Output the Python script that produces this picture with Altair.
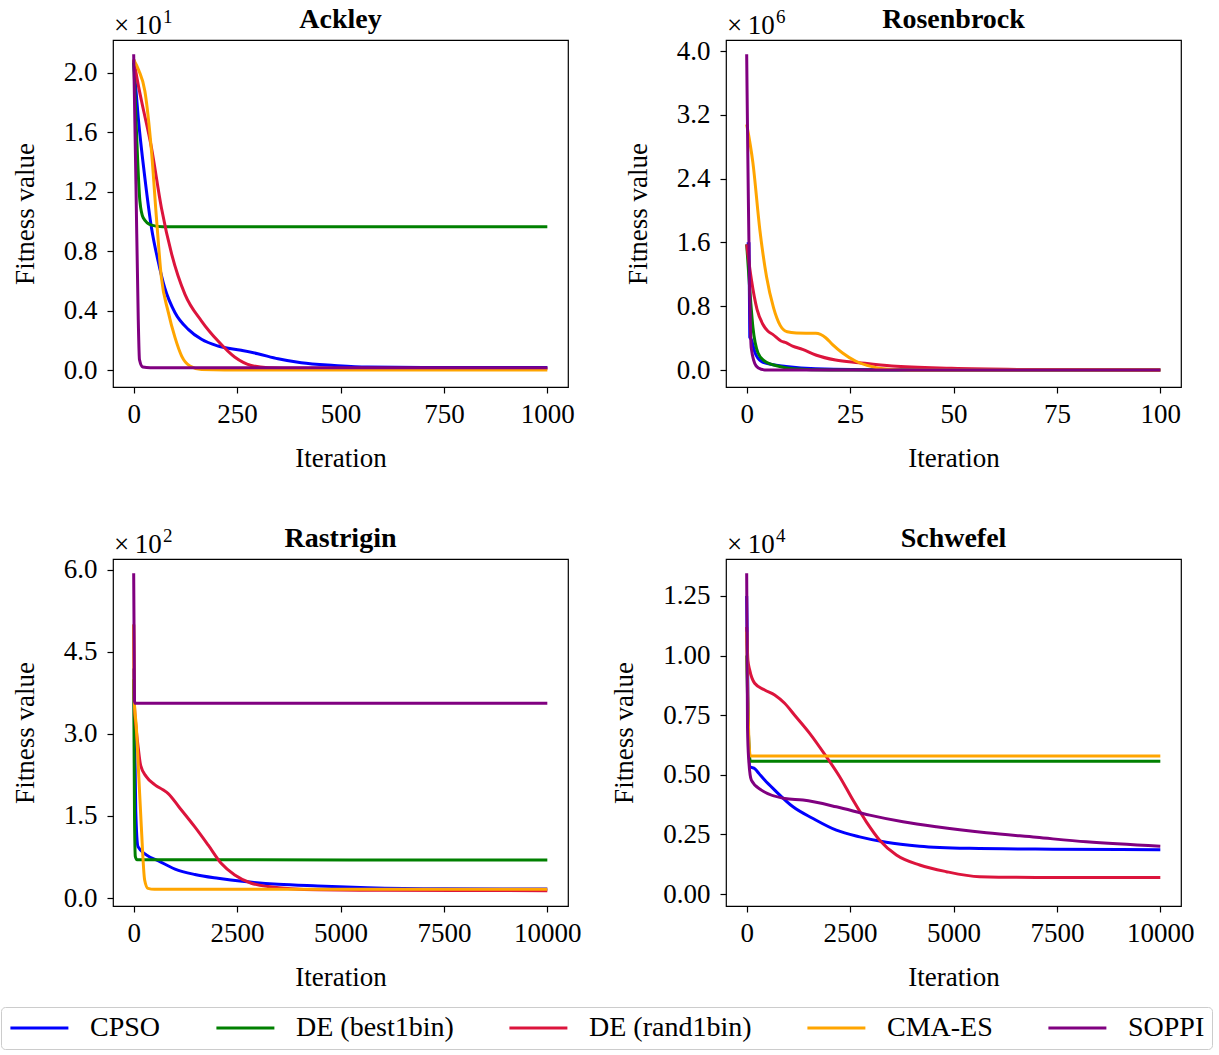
import altair as alt
import pandas as pd

FONT = "Liberation Serif"
ALGS = ["CPSO", "DE (best1bin)", "DE (rand1bin)", "CMA-ES", "SOPPI"]
COLORS = ["#0000ff", "#008000", "#dc143c", "#ffa500", "#800080"]

TITLES = ["Ackley", "Rosenbrock", "Rastrigin", "Schwefel"]
EXPONENTS = [1, 6, 2, 4]

# ---------------- Ackley (values in units of 10^1) ----------------
ACK_CPSO_X = [0, 11, 27, 43, 59, 75, 100, 132, 164, 204, 260, 300, 349, 405, 485, 565, 700, 1000]
ACK_CPSO_Y = [2.07, 1.70, 1.295, 0.958, 0.734, 0.554, 0.386, 0.274, 0.207, 0.162, 0.133, 0.110, 0.076, 0.049, 0.031, 0.020, 0.018, 0.018]
ACK_BEST_X = [0, 7, 15, 23, 43, 70, 1000]
ACK_BEST_Y = [2.09, 1.587, 1.138, 1.026, 0.976, 0.965, 0.965]
ACK_RAND_X = [0, 11, 19, 43, 67, 92, 124, 164, 204, 244, 284, 325, 400, 1000]
ACK_RAND_Y = [2.09, 1.92, 1.811, 1.497, 1.093, 0.779, 0.510, 0.330, 0.195, 0.0875, 0.031, 0.016, 0.012, 0.010]
ACK_CMA_X = [0, 12, 27, 43, 55, 67, 83, 100, 116, 136, 164, 220, 1000]
ACK_CMA_Y = [2.09, 2.02, 1.879, 1.475, 1.026, 0.622, 0.397, 0.218, 0.094, 0.027, 0.003, 0.0, 0.0]
ACK_SOPPI_X = [0, 5.5, 11, 14, 22, 40, 1000]
ACK_SOPPI_Y = [2.126, 1.25, 0.35, 0.07, 0.02, 0.015, 0.015]

# ---------------- Rosenbrock (values in units of 10^6) ----------------
ROS_CPSO_X = [0, 0.55, 0.75, 1.1, 2.0, 3.5, 5.5, 9.5, 16.7, 35, 100]
ROS_CPSO_Y = [1.584, 1.584, 0.41, 0.385, 0.22, 0.11, 0.075, 0.045, 0.017, 0.003, 0.0]
ROS_BEST_X = [0, 0.72, 1.52, 2.72, 4.3, 7.5, 11.1, 20, 100]
ROS_BEST_Y = [1.576, 1.03, 0.53, 0.217, 0.113, 0.05, 0.017, 0.0, 0.0]
ROS_RAND_X = [0, 1.12, 2.5, 3.9, 5.1, 6.3, 8.3, 9.5, 11.1, 13.5, 16.7, 21.5, 27.1, 35.1, 49.5, 65.5, 100]
ROS_RAND_Y = [1.576, 1.14, 0.76, 0.573, 0.489, 0.447, 0.364, 0.342, 0.30, 0.259, 0.188, 0.125, 0.092, 0.05, 0.021, 0.008, 0.0]
ROS_CMA_X = [0, 1.5, 3.2, 4.8, 6.5, 8.1, 9.8, 12, 16.7, 19.1, 20.7, 23.1, 26.3, 30.3, 35, 40, 100]
ROS_CMA_Y = [3.08, 2.6, 1.75, 1.17, 0.78, 0.56, 0.48, 0.465, 0.46, 0.405, 0.322, 0.217, 0.113, 0.042, 0.008, 0.0, 0.0]
ROS_SOPPI_X = [0, 1.1, 2.3, 3.5, 5, 100]
ROS_SOPPI_Y = [3.958, 0.28, 0.05, 0.01, 0.0, 0.0]

# ---------------- Rastrigin (values in units of 10^2) ----------------
RAS_CPSO_X = [0, 50, 104, 305, 600, 1000, 1480, 2040, 2680, 3490, 4450, 5650, 7500, 10000]
RAS_CPSO_Y = [4.2, 1.6, 0.94, 0.79, 0.68, 0.53, 0.43, 0.36, 0.30, 0.25, 0.22, 0.19, 0.17, 0.165]
RAS_BEST_X = [0, 20, 40, 80, 10000]
RAS_BEST_Y = [4.0, 1.5, 0.756, 0.70, 0.695]
RAS_RAND_X = [0, 15, 60, 110, 170, 305, 514, 707, 835, 1100, 1478, 1799, 2120, 2442, 2843, 3245, 4450, 6000, 10000]
RAS_RAND_Y = [5.0, 3.6, 3.1, 2.75, 2.42, 2.22, 2.07, 1.98, 1.91, 1.66, 1.30, 0.97, 0.63, 0.42, 0.27, 0.21, 0.15, 0.14, 0.135]
RAS_CMA_X = [0, 15, 64, 125, 185, 265, 345, 500, 10000]
RAS_CMA_Y = [5.0, 3.6, 3.13, 2.2, 1.30, 0.33, 0.177, 0.16, 0.16]
RAS_SOPPI_X = [0, 20, 40, 10000]
RAS_SOPPI_Y = [5.94, 3.6, 3.56, 3.56]

# ---------------- Schwefel (values in units of 10^4) ----------------
SCH_CPSO_X = [0, 40, 80, 200, 300, 435, 677, 1120, 1604, 2168, 2731, 3376, 4182, 5391, 7406, 10000]
SCH_CPSO_Y = [1.25, 0.7, 0.534, 0.525, 0.505, 0.478, 0.436, 0.366, 0.317, 0.268, 0.24, 0.217, 0.201, 0.192, 0.188, 0.186]
SCH_BEST_X = [0, 60, 90, 10000]
SCH_BEST_Y = [1.0, 0.6, 0.557, 0.557]
SCH_RAND_X = [0, 30, 72, 193, 435, 677, 918, 1160, 1523, 1926, 2248, 2570, 2893, 3215, 3619, 4182, 4827, 5632, 7000, 10000]
SCH_RAND_Y = [1.12, 0.98, 0.94, 0.884, 0.856, 0.835, 0.80, 0.75, 0.674, 0.576, 0.492, 0.394, 0.303, 0.226, 0.164, 0.122, 0.094, 0.073, 0.07, 0.07]
SCH_CMA_X = [0, 60, 90, 10000]
SCH_CMA_Y = [1.1, 0.62, 0.579, 0.579]
SCH_SOPPI_X = [0, 20, 50, 113, 355, 918, 1362, 2168, 2973, 3779, 4585, 5794, 7003, 8212, 10000]
SCH_SOPPI_Y = [1.345, 0.7, 0.562, 0.478, 0.436, 0.401, 0.394, 0.366, 0.331, 0.303, 0.282, 0.257, 0.238, 0.219, 0.201]

# axes: domains and ticks
ACK_XDOM, ACK_YDOM = [-50, 1050], [-0.114, 2.222]
ROS_XDOM, ROS_YDOM = [-5, 105], [-0.213, 4.138]
RAS_XDOM, RAS_YDOM = [-500, 10500], [-0.146, 6.2]
SCH_XDOM, SCH_YDOM = [-500, 10500], [-0.05, 1.405]
ACK_XTICKS, ACK_YTICKS = [0, 250, 500, 750, 1000], [0, 0.4, 0.8, 1.2, 1.6, 2.0]
ROS_XTICKS, ROS_YTICKS = [0, 25, 50, 75, 100], [0, 0.8, 1.6, 2.4, 3.2, 4.0]
RAS_XTICKS, RAS_YTICKS = [0, 2500, 5000, 7500, 10000], [0, 1.5, 3.0, 4.5, 6.0]
SCH_XTICKS, SCH_YTICKS = [0, 2500, 5000, 7500, 10000], [0, 0.25, 0.5, 0.75, 1.0, 1.25]

W, H = 455, 347

color_enc = alt.Color(
    "alg:N",
    scale=alt.Scale(domain=ALGS, range=COLORS),
    legend=alt.Legend(title=None),
)


def panel(title, exp, xs, ys, xdom, ydom, xticks, yticks, yfmt):
    rows = []
    for alg, xv, yv in zip(ALGS, xs, ys):
        for a, b in zip(xv, yv):
            rows.append({"alg": alg, "it": a, "val": b})
    df = pd.DataFrame(rows)
    xenc = alt.X(
        "it:Q",
        scale=alt.Scale(domain=xdom, nice=False, zero=False),
        axis=alt.Axis(values=xticks, format="d", title="Iteration"),
    )
    yenc = alt.Y(
        "val:Q",
        scale=alt.Scale(domain=ydom, nice=False, zero=False),
        axis=alt.Axis(values=yticks, format=yfmt, title="Fitness value"),
    )
    layers = []
    for alg in ALGS:
        layers.append(
            alt.Chart(df)
            .transform_filter(alt.datum.alg == alg)
            .mark_line(strokeWidth=3, clip=True, interpolate="monotone")
            .encode(x=xenc, y=yenc, color=color_enc)
        )
    ttl = alt.Chart(pd.DataFrame({"t": [title]})).mark_text(
        align="center", baseline="alphabetic", font=FONT, fontSize=28,
        fontWeight="bold", color="black",
    ).encode(text="t:N", x=alt.value(W / 2), y=alt.value(-12))
    off = alt.Chart(pd.DataFrame({"t": ["×\u200910"]})).mark_text(
        align="left", baseline="alphabetic", font=FONT, fontSize=27, color="black",
    ).encode(text="t:N", x=alt.value(1), y=alt.value(-6))
    sup = alt.Chart(pd.DataFrame({"t": [str(exp)]})).mark_text(
        align="left", baseline="alphabetic", font=FONT, fontSize=19, color="black",
    ).encode(text="t:N", x=alt.value(50), y=alt.value(-17))
    return alt.layer(*layers, ttl, off, sup).properties(width=W, height=H)


p1 = panel(TITLES[0], EXPONENTS[0],
           [ACK_CPSO_X, ACK_BEST_X, ACK_RAND_X, ACK_CMA_X, ACK_SOPPI_X],
           [ACK_CPSO_Y, ACK_BEST_Y, ACK_RAND_Y, ACK_CMA_Y, ACK_SOPPI_Y],
           ACK_XDOM, ACK_YDOM, ACK_XTICKS, ACK_YTICKS, ".1f")
p2 = panel(TITLES[1], EXPONENTS[1],
           [ROS_CPSO_X, ROS_BEST_X, ROS_RAND_X, ROS_CMA_X, ROS_SOPPI_X],
           [ROS_CPSO_Y, ROS_BEST_Y, ROS_RAND_Y, ROS_CMA_Y, ROS_SOPPI_Y],
           ROS_XDOM, ROS_YDOM, ROS_XTICKS, ROS_YTICKS, ".1f")
p3 = panel(TITLES[2], EXPONENTS[2],
           [RAS_CPSO_X, RAS_BEST_X, RAS_RAND_X, RAS_CMA_X, RAS_SOPPI_X],
           [RAS_CPSO_Y, RAS_BEST_Y, RAS_RAND_Y, RAS_CMA_Y, RAS_SOPPI_Y],
           RAS_XDOM, RAS_YDOM, RAS_XTICKS, RAS_YTICKS, ".1f")
p4 = panel(TITLES[3], EXPONENTS[3],
           [SCH_CPSO_X, SCH_BEST_X, SCH_RAND_X, SCH_CMA_X, SCH_SOPPI_X],
           [SCH_CPSO_Y, SCH_BEST_Y, SCH_RAND_Y, SCH_CMA_Y, SCH_SOPPI_Y],
           SCH_XDOM, SCH_YDOM, SCH_XTICKS, SCH_YTICKS, ".2f")

# legend line: a short nominal symbol whose drawn stroke extends to the right
LEGEND_SYMBOL = "M-1,0H4"

chart = (
    alt.concat(p1, p2, p3, p4, columns=2, spacing={"row": 52, "column": 28})
    .resolve_scale(color="shared", x="independent", y="independent")
    .properties(padding={"left": 0, "top": 5, "right": 0, "bottom": 0}, background="white")
    .configure_view(stroke="black", strokeWidth=1.2)
    .configure_axis(
        labelFont=FONT, labelFontSize=27, labelColor="black",
        titleFont=FONT, titleFontSize=27, titleFontWeight="normal", titleColor="black",
        tickColor="black", tickSize=6, tickWidth=1.2, domain=False, grid=False,
        labelFlush=False, labelOverlap=False,
    )
    .configure_axisX(titlePadding=18, labelPadding=8)
    .configure_axisY(titlePadding=24, labelPadding=10)
    .configure_legend(
        orient="none", legendX=-112, legendY=967, direction="horizontal",
        labelFont=FONT, labelFontSize=28, labelColor="black", labelOffset=54,
        labelLimit=0, columnPadding=49, symbolType=LEGEND_SYMBOL, symbolSize=538,
        symbolStrokeWidth=3, strokeColor="#cccccc", fillColor="white",
        cornerRadius=4, padding=7,
    )
)

chart.save("out.html", embed_options={"renderer": "svg", "actions": False})
